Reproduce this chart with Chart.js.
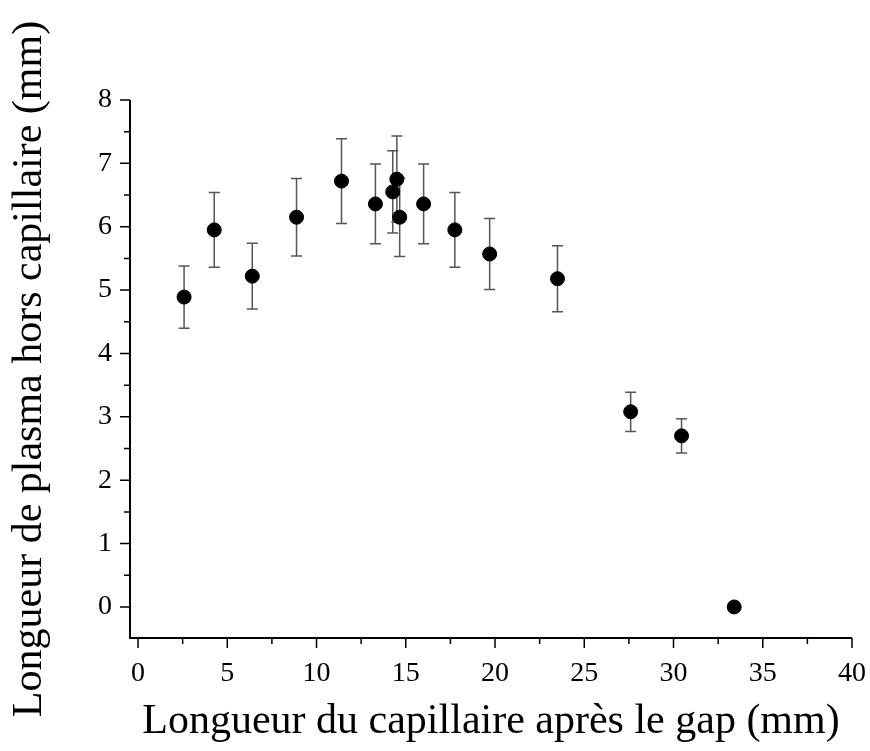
<!DOCTYPE html>
<html>
<head>
<meta charset="utf-8">
<script src="https://cdn.jsdelivr.net/npm/chart.js@4.4.1/dist/chart.umd.min.js"></script>
<style>
  html, body { margin: 0; padding: 0; background: #fff; }
  #wrap { width: 870px; height: 751px; }
</style>
</head>
<body>
<div id="wrap"><canvas id="plasma"></canvas></div>
<script>
// capillary length after the gap (mm)
var capLength = [2.58, 4.27, 6.4, 8.88, 11.4, 13.3, 14.27, 14.5, 14.66, 16.0, 17.75, 19.7, 23.5, 27.6, 30.45, 33.4];
// plasma length outside the capillary (mm)
var plasmaLength = [4.89, 5.95, 5.22, 6.15, 6.72, 6.36, 6.55, 6.75, 6.15, 6.36, 5.95, 5.57, 5.18, 3.08, 2.70, 0];
// symmetric error (mm)
var plasmaErr = [0.49, 0.59, 0.52, 0.61, 0.67, 0.63, 0.65, 0.68, 0.62, 0.63, 0.59, 0.56, 0.52, 0.31, 0.27, 0];

var xTicks = [0, 5, 10, 15, 20, 25, 30, 35, 40];
var yTicks = [0, 1, 2, 3, 4, 5, 6, 7, 8];

var serif = "'Liberation Serif', 'Times New Roman', serif";

var points = capLength.map(function(x, i) {
  return { x: x, y: plasmaLength[i], err: plasmaErr[i] };
});

// error bars with caps
var errorBars = {
  id: "errorBars",
  beforeDatasetsDraw: function(chart) {
    var ctx = chart.ctx;
    var xs = chart.scales.x;
    var ys = chart.scales.y;
    ctx.save();
    ctx.strokeStyle = "#555";
    ctx.lineWidth = 1.5;
    points.forEach(function(p) {
      if (!p.err) return;
      var px = xs.getPixelForValue(p.x);
      var top = ys.getPixelForValue(p.y + p.err);
      var bot = ys.getPixelForValue(p.y - p.err);
      ctx.beginPath();
      ctx.moveTo(px, top);
      ctx.lineTo(px, bot);
      ctx.moveTo(px - 5.5, top);
      ctx.lineTo(px + 5.5, top);
      ctx.moveTo(px - 5.5, bot);
      ctx.lineTo(px + 5.5, bot);
      ctx.stroke();
    });
    ctx.restore();
  }
};

// axis lines plus major / minor ticks
var axes = {
  id: "axes",
  afterDraw: function(chart) {
    var ctx = chart.ctx;
    var xs = chart.scales.x;
    var ys = chart.scales.y;
    var area = chart.chartArea;
    ctx.save();
    ctx.strokeStyle = "#000";
    ctx.lineWidth = 2;
    ctx.beginPath();
    ctx.moveTo(area.left, area.top);
    ctx.lineTo(area.left, area.bottom);
    ctx.lineTo(area.right, area.bottom);
    ctx.stroke();
    ctx.lineWidth = 1.5;
    ctx.beginPath();
    xTicks.forEach(function(v, i) {
      var px = xs.getPixelForValue(v);
      ctx.moveTo(px, area.bottom);
      ctx.lineTo(px, area.bottom + 10);
      if (i < xTicks.length - 1) {
        var mx = xs.getPixelForValue(v + 2.5);
        ctx.moveTo(mx, area.bottom);
        ctx.lineTo(mx, area.bottom + 6);
      }
    });
    yTicks.forEach(function(v, i) {
      var py = ys.getPixelForValue(v);
      ctx.moveTo(area.left, py);
      ctx.lineTo(area.left - 10, py);
      if (i < yTicks.length - 1) {
        var my = ys.getPixelForValue(v + 0.5);
        ctx.moveTo(area.left, my);
        ctx.lineTo(area.left - 6, my);
      }
    });
    ctx.stroke();
    ctx.restore();
  }
};

var ctx = document.getElementById("plasma").getContext("2d");
var chart = new Chart(ctx, {
  type: "scatter",
  data: {
    datasets: [
      {
        data: points,
        backgroundColor: "#000",
        borderColor: "#000",
        pointRadius: 7,
        pointHoverRadius: 7
      }
    ]
  },
  plugins: [errorBars, axes],
  options: {
    responsive: true,
    maintainAspectRatio: false,
    animation: false,
    layout: {
      padding: { left: 0, right: 18, top: 100, bottom: 0 }
    },
    plugins: {
      legend: { display: false },
      tooltip: { enabled: false }
    },
    scales: {
      x: {
        type: "linear",
        min: -0.45,
        max: 40,
        afterBuildTicks: function(scale) {
          scale.ticks = xTicks.map(function(v) { return { value: v }; });
        },
        afterFit: function(scale) {
          scale.height = 113;
          scale.paddingLeft = 0;
          scale.paddingRight = 0;
        },
        grid: { display: false, drawTicks: false },
        border: { display: false },
        ticks: {
          color: "#000",
          padding: 19,
          maxRotation: 0,
          font: { family: serif, size: 28 }
        },
        title: {
          display: true,
          text: "Longueur du capillaire après le gap (mm)",
          color: "#000",
          font: { family: serif, size: 42 },
          padding: { top: 0, bottom: 4 }
        }
      },
      y: {
        type: "linear",
        min: -0.49,
        max: 8,
        afterBuildTicks: function(scale) {
          scale.ticks = yTicks.map(function(v) { return { value: v }; });
        },
        afterFit: function(scale) {
          scale.width = 130;
          scale.paddingTop = 0;
          scale.paddingBottom = 0;
        },
        grid: { display: false, drawTicks: false },
        border: { display: false },
        ticks: {
          color: "#000",
          padding: 18,
          font: { family: serif, size: 28 }
        },
        title: {
          display: true,
          text: "Longueur de plasma hors capillaire (mm)",
          color: "#000",
          font: { family: serif, size: 42 },
          padding: { top: 5, bottom: 0 }
        }
      }
    }
  }
});
</script>
</body>
</html>
